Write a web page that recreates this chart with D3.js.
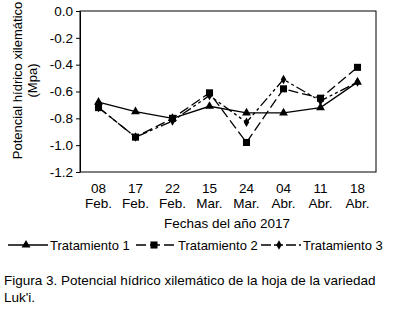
<!DOCTYPE html>
<html>
<head>
<meta charset="utf-8">
<script src="https://cdn.jsdelivr.net/npm/d3@7"></script>
<style>
  body { margin: 0; background: #fff; }
  text { font-family: "Liberation Sans", Arial, sans-serif; fill: #000; }
</style>
</head>
<body>
<div id="chart"></div>
<script>
// data
var fechas = ["08|Feb.", "17|Feb.", "22|Feb.", "15|Mar.", "24|Mar.", "04|Abr.", "11|Abr.", "18|Abr."];
var trat1 = [-0.68, -0.75, -0.80, -0.71, -0.76, -0.76, -0.72, -0.53];
var trat2 = [-0.72, -0.94, -0.80, -0.61, -0.98, -0.58, -0.65, -0.42];
var trat3 = [-0.72, -0.94, -0.82, -0.63, -0.83, -0.51, -0.67, -0.53];
var yTicks = [0.0, -0.2, -0.4, -0.6, -0.8, -1.0, -1.2];

var series = [
    {name: "Tratamiento 1", values: trat1, dash: null, symbol: d3.symbolTriangle, size: 34},
    {name: "Tratamiento 2", values: trat2, dash: "10,4", symbol: d3.symbolSquare, size: 50},
    {name: "Tratamiento 3", values: trat3, dash: "10,3,3,3,3,3", symbol: d3.symbolDiamond, size: 26}
];

var setWidth = 396, setHeight = 310;
var margin = {top: 11, right: 20, bottom: 138, left: 80};
var width = setWidth - margin.left - margin.right;
var height = setHeight - margin.top - margin.bottom;
var fs = "13.5px";

var root = d3.select("#chart").append("svg")
    .attr("width", setWidth)
    .attr("height", setHeight);

var svg = root.append("g")
    .attr("transform", "translate(" + margin.left + "," + margin.top + ")");

var x = d3.scaleBand().domain(fechas).range([0, width]);
var y = d3.scaleLinear().domain([-1.2, 0]).range([height, 0]);

// frame
svg.append("rect")
    .attr("x", 0).attr("y", 0)
    .attr("width", width).attr("height", height)
    .attr("fill", "none").attr("stroke", "#000").attr("stroke-width", 1);

// y axis
var yAxis = svg.append("g")
    .call(d3.axisLeft(y).tickValues(yTicks).tickSize(4).tickSizeOuter(0)
        .tickFormat(function (d) { return d3.format(".1f")(d).replace("−", "-"); }));
yAxis.select(".domain").attr("stroke", "#000");
yAxis.selectAll("text").style("font-size", fs).attr("x", -7);

// x axis labels (two lines)
var xAxis = svg.append("g")
    .attr("transform", "translate(0," + height + ")")
    .call(d3.axisBottom(x).tickSize(0).tickFormat(""));
xAxis.select(".domain").remove();
fechas.forEach(function (f) {
    var parts = f.split("|");
    var cx = x(f) + x.bandwidth() / 2;
    var t = svg.append("text")
        .attr("y", height + 21)
        .attr("text-anchor", "middle")
        .style("font-size", fs);
    t.append("tspan").attr("x", cx).text(parts[0]);
    t.append("tspan").attr("x", cx).attr("dy", 15).text(parts[1]);
});

// x axis title
svg.append("text")
    .attr("x", width / 2 - 1)
    .attr("y", height + 56)
    .attr("text-anchor", "middle")
    .style("font-size", fs)
    .text("Fechas del año 2017");

// y axis title
var yt = root.append("text")
    .attr("transform", "translate(22," + (margin.top + height / 2 - 11) + ") rotate(-90)")
    .attr("text-anchor", "middle")
    .style("font-size", "13px");
yt.append("tspan").attr("x", 0).attr("y", 0).text("Potencial hídrico xilemático");
yt.append("tspan").attr("x", 0).attr("dy", 15).text("(Mpa)");

// lines and markers
var line = d3.line()
    .x(function (d, i) { return x(fechas[i]) + x.bandwidth() / 2; })
    .y(function (d) { return y(d); });

series.forEach(function (s) {
    svg.append("path")
        .datum(s.values)
        .attr("d", line)
        .attr("fill", "none")
        .attr("stroke", "#000")
        .attr("stroke-width", 1.3)
        .attr("stroke-dasharray", s.dash);
    svg.selectAll(null)
        .data(s.values)
        .join("path")
        .attr("d", d3.symbol().type(s.symbol).size(s.size))
        .attr("transform", function (d, i) {
            return "translate(" + (x(fechas[i]) + x.bandwidth() / 2) + "," + y(d) + ")";
        })
        .attr("fill", "#000");
});

// legend
var legendText = [50, 178, 303];
var legend = root.append("g").attr("transform", "translate(0,245)");
series.forEach(function (s, i) {
    var g = legend.append("g").attr("transform", "translate(" + (legendText[i] - 42) + ",0)");
    g.append("line")
        .attr("x1", 0).attr("x2", 40).attr("y1", 0).attr("y2", 0)
        .attr("stroke", "#000").attr("stroke-width", 1.3)
        .attr("stroke-dasharray", s.dash);
    g.append("path")
        .attr("d", d3.symbol().type(s.symbol).size(s.size))
        .attr("transform", "translate(18,0)")
        .attr("fill", "#000");
    g.append("text")
        .attr("x", 42).attr("y", 5)
        .style("font-size", "13px")
        .text(s.name);
});

// caption
var cap = root.append("text")
    .attr("x", 4).attr("y", 285)
    .style("font-size", fs);
cap.append("tspan").attr("x", 4).text("Figura 3. Potencial hídrico xilemático de la hoja de la variedad");
cap.append("tspan").attr("x", 4).attr("dy", 17).text("Luk'i.");
</script>
</body>
</html>
